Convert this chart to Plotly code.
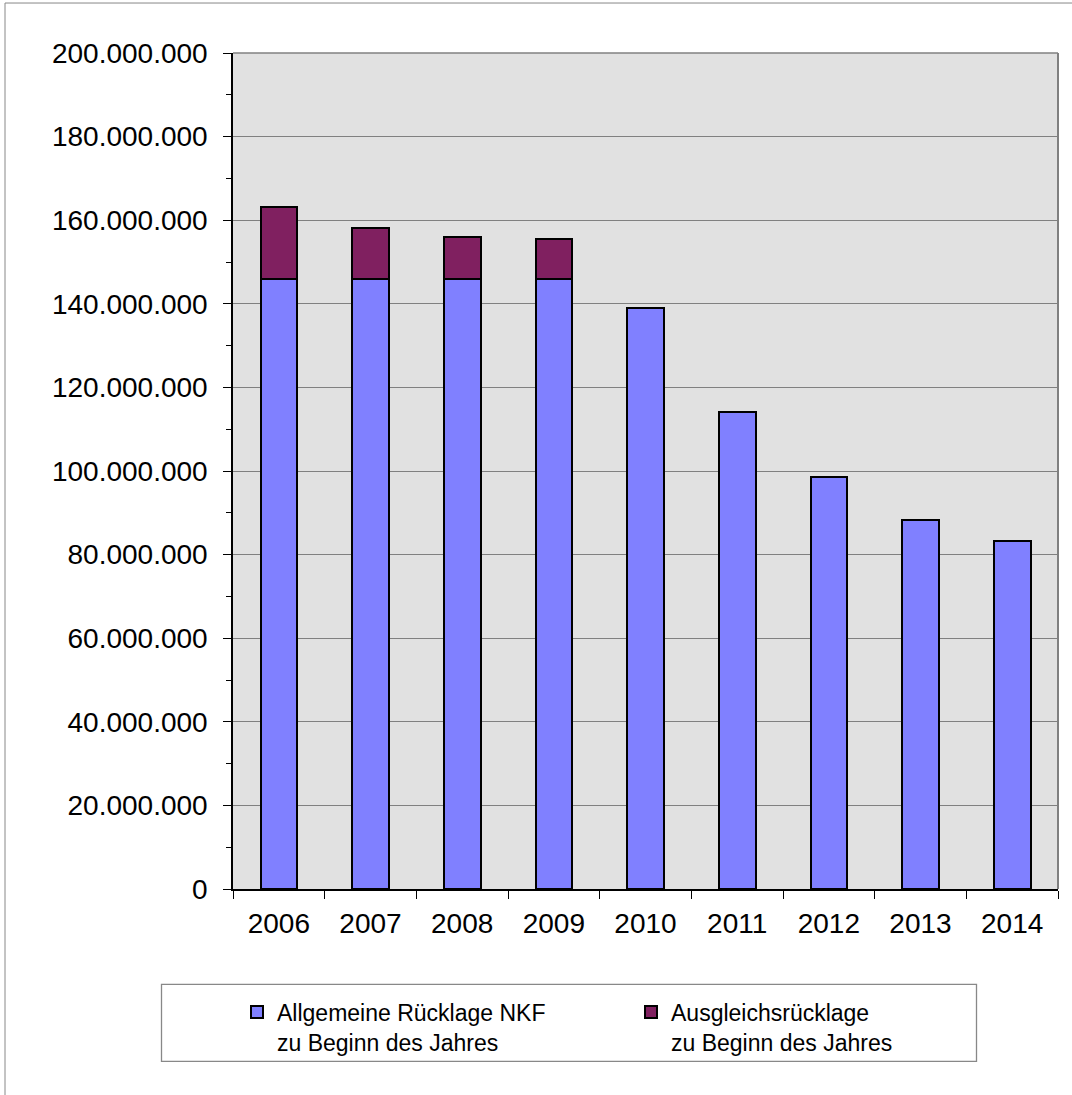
import plotly.graph_objects as go

years = ["2006", "2007", "2008", "2009", "2010", "2011", "2012", "2013", "2014"]
allgemeine = [145.9e6, 145.9e6, 145.9e6, 145.9e6, 139.0e6, 114.0e6, 98.5e6, 88.3e6, 83.3e6]
ausgleich = [17.3e6, 12.2e6, 10.0e6, 9.6e6, None, None, None, None, None]
y_ticks = [0, 20e6, 40e6, 60e6, 80e6, 100e6, 120e6, 140e6, 160e6, 180e6, 200e6]

FONT = "Liberation Sans, Arial, sans-serif"
W, H = 1072, 1095
L, R, T, B = 233, 14, 53, 205.5
PW, PH = W - L - R, H - T - B


def px_x(px):
    return (px - L) / PW


def px_y(py):
    return (H - B - py) / PH


fig = go.Figure()
fig.add_trace(go.Bar(
    x=years, y=allgemeine,
    name="Allgemeine Rücklage NKF<br>zu Beginn des Jahres",
    marker=dict(color="#8080ff", line=dict(color="#000000", width=2)),
))
fig.add_trace(go.Bar(
    x=years, y=ausgleich,
    name="Ausgleichsrücklage<br>zu Beginn des Jahres",
    marker=dict(color="#802060", line=dict(color="#000000", width=2)),
))

fig.update_layout(
    width=W, height=H,
    margin=dict(l=L, r=R, t=T, b=B, pad=0, autoexpand=False),
    barmode="stack", bargap=0.6,
    plot_bgcolor="#e1e1e1", paper_bgcolor="#ffffff",
    separators=",.",
    font=dict(family=FONT, color="#000000"),
    showlegend=True,
    legend=dict(
        orientation="h", x=px_x(237), xanchor="left",
        y=px_y(991), yanchor="top",
        font=dict(family=FONT, size=23, color="#000000"),
        bgcolor="rgba(0,0,0,0)", borderwidth=0,
        valign="top", entrywidth=349, entrywidthmode="pixels",
        traceorder="normal",
    ),
    shapes=[
        # outer chart border
        dict(type="rect", xref="paper", yref="paper",
             x0=px_x(5), x1=px_x(1090), y0=px_y(1110), y1=px_y(3),
             line=dict(color="#888888", width=1), layer="below"),
        # legend box
        dict(type="rect", xref="paper", yref="paper",
             x0=px_x(161.5), x1=px_x(976.5), y0=px_y(1062), y1=px_y(985),
             line=dict(color="#888888", width=1.3)),
        # plot area top border
        dict(type="line", xref="paper", yref="paper",
             x0=0, x1=1, y0=1, y1=1, line=dict(color="#808080", width=1.5)),
        # plot area right border
        dict(type="line", xref="paper", yref="paper",
             x0=1, x1=1, y0=0, y1=1, line=dict(color="#808080", width=2)),
    ],
)

fig.update_yaxes(
    range=[0, 200e6], tickvals=y_ticks, tickformat=",d",
    tickfont=dict(family=FONT, size=28, color="#000000"),
    showgrid=True, gridcolor="#808080", gridwidth=1,
    showline=True, linecolor="#000000", linewidth=1.5,
    ticks="outside", ticklen=8, tickcolor="#000000", tickwidth=1,
    ticklabelstandoff=10,
    minor=dict(ticks="outside", ticklen=5, dtick=10e6, tick0=0,
               tickcolor="#000000", showgrid=False),
    zeroline=False,
)
fig.update_xaxes(
    type="category", categoryorder="array", categoryarray=years,
    tickfont=dict(family=FONT, size=28, color="#000000"),
    showgrid=False,
    showline=True, linecolor="#000000", linewidth=1.5,
    ticks="outside", ticklen=8, tickcolor="#000000", tickwidth=1,
    tickson="boundaries", ticklabelstandoff=9,
)

fig.write_html("out.html")
